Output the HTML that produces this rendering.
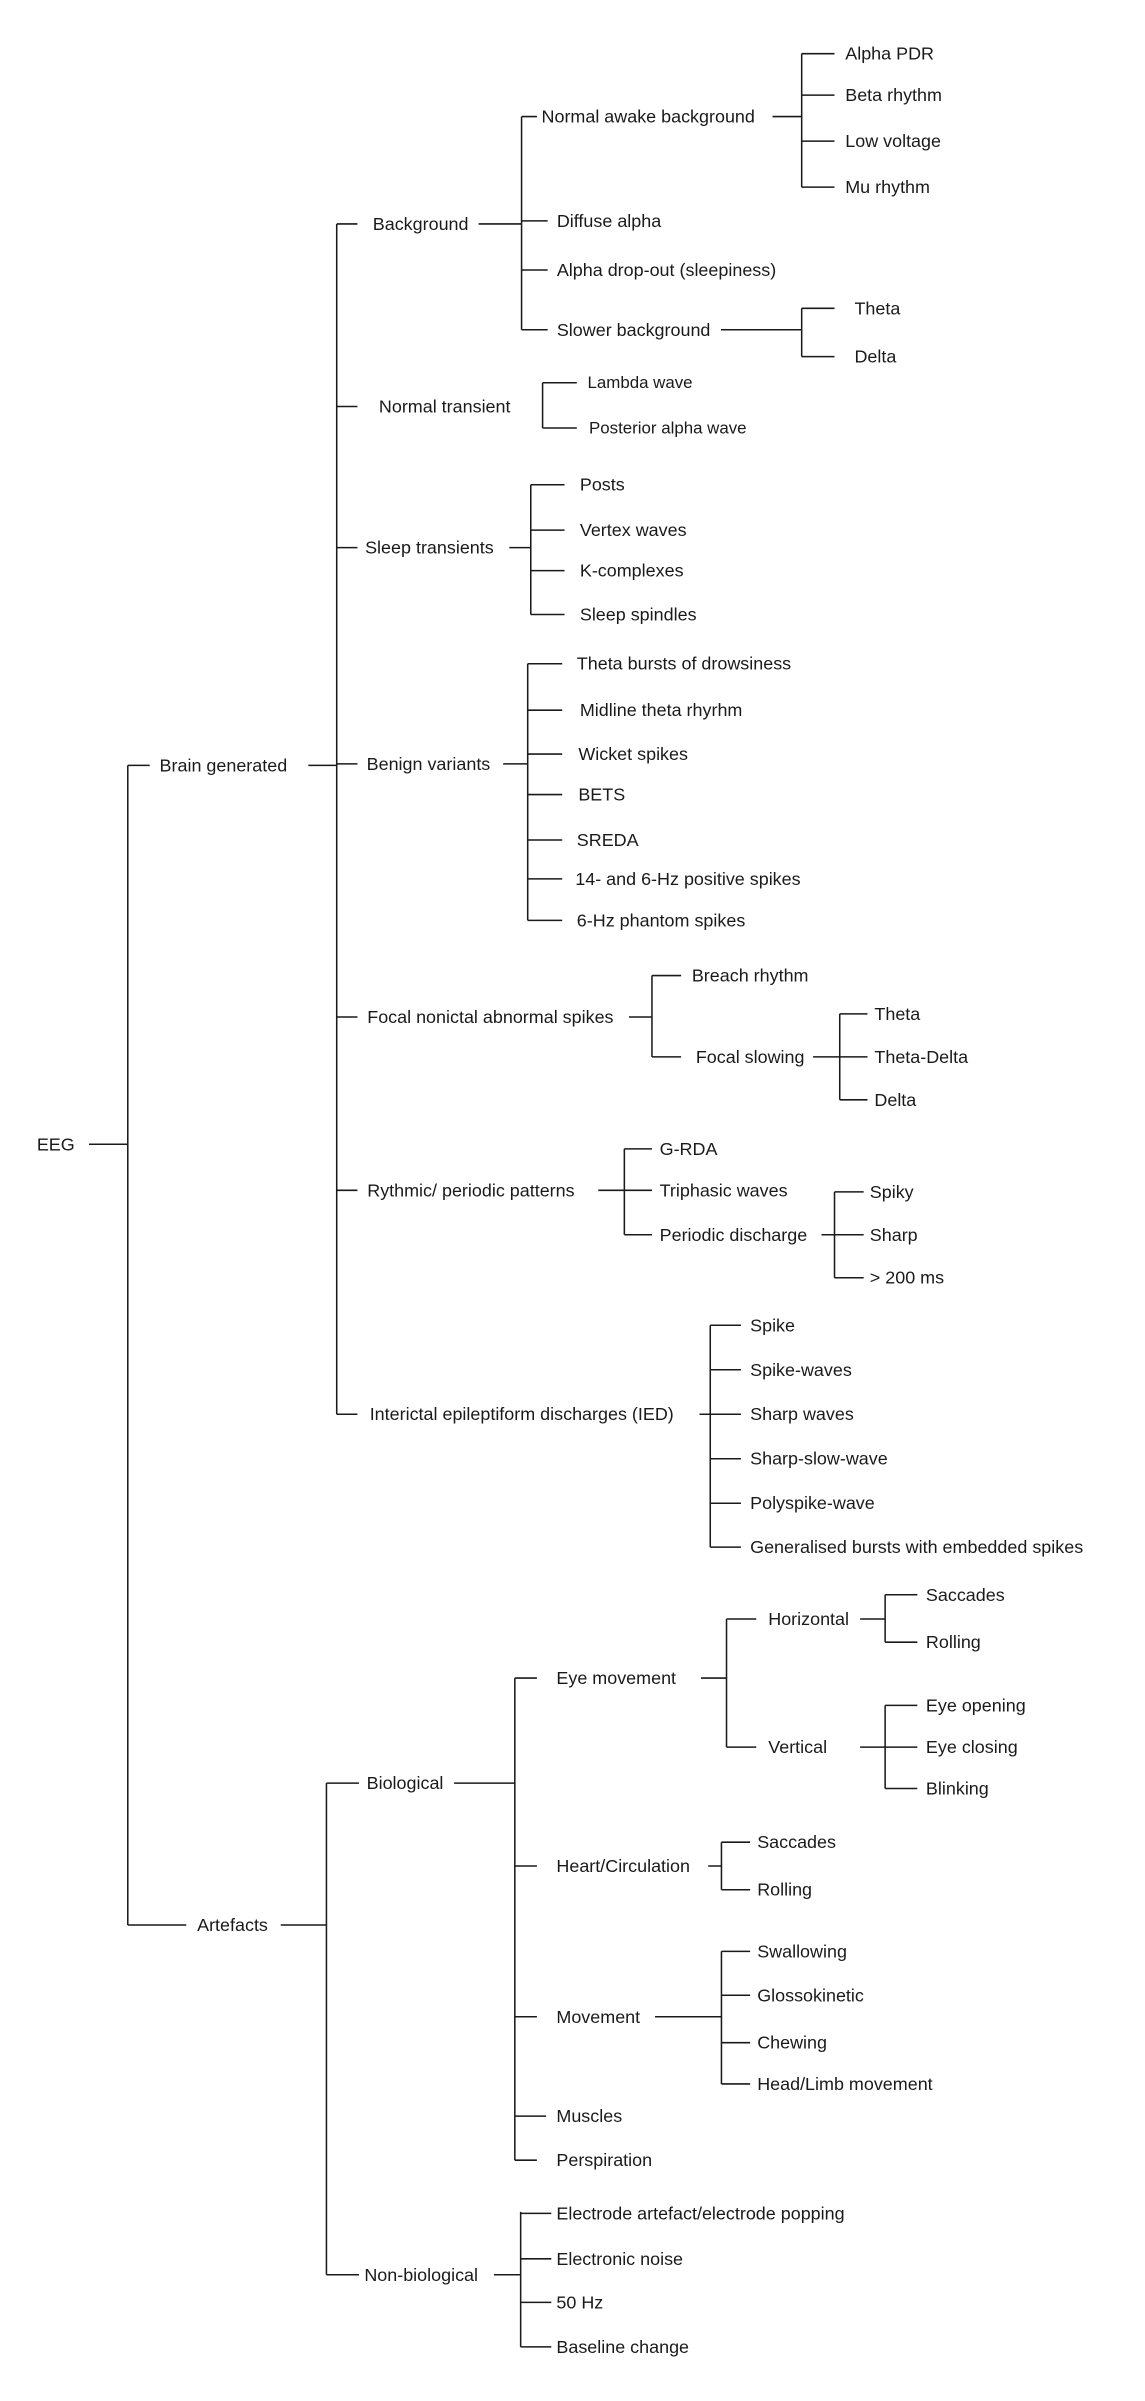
<!DOCTYPE html>
<html><head><meta charset="utf-8"><style>
html,body{margin:0;padding:0;background:#fff;}
svg{display:block;}
text{font-family:"Liberation Sans",Arial,sans-serif;font-size:11.7px;fill:#1a1a1a;dominant-baseline:central;}
path{stroke:#1a1a1a;stroke-width:1;fill:none;}
</style></head><body>
<svg width="1145" height="2401" viewBox="0 0 746.4 1565.3" preserveAspectRatio="none" xmlns="http://www.w3.org/2000/svg">
<path d="
M58 746H83.3 M83.3 499V1255 M83.3 499H97.6 M83.3 1255H121.4
M201 499H219.5 M219.5 146V922
M219.5 146H233 M219.5 265H233 M219.5 357H233 M219.5 498H233 M219.5 663H233 M219.5 776H233 M219.5 922H233
M312 146H340 M340 76V215 M340 76H350 M340 144H357 M340 176H357 M340 215H357
M503.6 76H522.6 M522.6 35V122 M522.6 35H544 M522.6 62H544 M522.6 92H544 M522.6 122H544
M470 215H522.6 M522.6 201V232.5 M522.6 201H544 M522.6 232.5H544
M353.7 249.5V279 M353.7 249.5H376 M353.7 279H376
M332 357H346 M346 316V400.6 M346 316H368 M346 345.6H368 M346 372H368 M346 400.6H368
M328 498H344 M344 432.7V600 M344 432.7H366.5 M344 463H366.5 M344 491.6H366.5 M344 518H366.5 M344 547.6H366.5 M344 573H366.5 M344 600H366.5
M410 663H425 M425 636V689 M425 636H444 M425 689H444
M530 689H547.4 M547.4 661V717 M547.4 661H565.5 M547.4 689H565.5 M547.4 717H565.5
M390 776H407 M407 749V805 M407 749H425 M407 776H425 M407 805H425
M535.5 805H544 M544 777V833 M544 777H563 M544 805H563 M544 833H563
M456 922H463 M463 864V1008.6 M463 864H483 M463 893H483 M463 922H483 M463 951H483 M463 980H483 M463 1008.6H483
M183 1255H212.8 M212.8 1162.5V1483 M212.8 1162.5H234 M212.8 1483H234
M296 1162.5H335.6 M335.6 1094V1408.3 M335.6 1094H350 M335.6 1216.5H350 M335.6 1314.8H350 M335.6 1379.6H356 M335.6 1408.3H350
M457 1094H473.6 M473.6 1055.5V1139 M473.6 1055.5H493 M473.6 1139H493
M560.7 1055.5H577 M577 1039.7V1070.6 M577 1039.7H598 M577 1070.6H598
M560.7 1139H577 M577 1111.8V1166 M577 1111.8H598 M577 1139H598 M577 1166H598
M461.7 1216.5H470.3 M470.3 1201V1232 M470.3 1201H489 M470.3 1232H489
M427 1314.8H470.3 M470.3 1272.2V1358.6 M470.3 1272.2H489 M470.3 1300.8H489 M470.3 1331.7H489 M470.3 1358.6H489
M322 1483H339.4 M339.4 1442V1530 M339.4 1443H359.4 M339.4 1472.6H359.4 M339.4 1501H359.4 M339.4 1530H359.4
"/>
<text x="24" y="746">EEG</text>
<text x="104" y="499">Brain generated</text>
<text x="128.5" y="1255">Artefacts</text>
<text x="243" y="146">Background</text>
<text x="247" y="265">Normal transient</text>
<text x="238" y="357">Sleep transients</text>
<text x="239" y="498">Benign variants</text>
<text x="239.4" y="663">Focal nonictal abnormal spikes</text>
<text x="239.4" y="776">Rythmic/ periodic patterns</text>
<text x="241" y="922">Interictal epileptiform discharges (IED)</text>
<text x="353" y="76">Normal awake background</text>
<text x="363" y="144">Diffuse alpha</text>
<text x="363" y="176">Alpha drop-out (sleepiness)</text>
<text x="363" y="215">Slower background</text>
<text x="551" y="35">Alpha PDR</text>
<text x="551" y="62">Beta rhythm</text>
<text x="551" y="92">Low voltage</text>
<text x="551" y="122">Mu rhythm</text>
<text x="557" y="201">Theta</text>
<text x="557" y="232.5">Delta</text>
<text x="383" y="249.5" style="font-size:11px">Lambda wave</text>
<text x="384" y="279" style="font-size:11px">Posterior alpha wave</text>
<text x="378" y="316">Posts</text>
<text x="378" y="345.6">Vertex waves</text>
<text x="378" y="372">K-complexes</text>
<text x="378" y="400.6">Sleep spindles</text>
<text x="376" y="432.7">Theta bursts of drowsiness</text>
<text x="378" y="463">Midline theta rhyrhm</text>
<text x="377" y="491.6">Wicket spikes</text>
<text x="377" y="518">BETS</text>
<text x="376" y="547.6">SREDA</text>
<text x="375" y="573">14- and 6-Hz positive spikes</text>
<text x="376" y="600">6-Hz phantom spikes</text>
<text x="451" y="636">Breach rhythm</text>
<text x="453.6" y="689">Focal slowing</text>
<text x="570" y="661">Theta</text>
<text x="570" y="689">Theta-Delta</text>
<text x="570" y="717">Delta</text>
<text x="430" y="749">G-RDA</text>
<text x="430" y="776">Triphasic waves</text>
<text x="430" y="805">Periodic discharge</text>
<text x="567" y="777">Spiky</text>
<text x="567" y="805">Sharp</text>
<text x="567" y="833">&gt; 200 ms</text>
<text x="489" y="864">Spike</text>
<text x="489" y="893">Spike-waves</text>
<text x="489" y="922">Sharp waves</text>
<text x="489" y="951">Sharp-slow-wave</text>
<text x="489" y="980">Polyspike-wave</text>
<text x="489" y="1008.6">Generalised bursts with embedded spikes</text>
<text x="239" y="1162.5">Biological</text>
<text x="237.5" y="1483">Non-biological</text>
<text x="362.7" y="1094">Eye movement</text>
<text x="500.8" y="1055.5">Horizontal</text>
<text x="500.8" y="1139">Vertical</text>
<text x="603.6" y="1039.7">Saccades</text>
<text x="603.6" y="1070.6">Rolling</text>
<text x="603.6" y="1111.8">Eye opening</text>
<text x="603.6" y="1139">Eye closing</text>
<text x="603.6" y="1166">Blinking</text>
<text x="362.7" y="1216.5">Heart/Circulation</text>
<text x="493.6" y="1201">Saccades</text>
<text x="493.6" y="1232">Rolling</text>
<text x="362.7" y="1314.8">Movement</text>
<text x="493.6" y="1272.2">Swallowing</text>
<text x="493.6" y="1300.8">Glossokinetic</text>
<text x="493.6" y="1331.7">Chewing</text>
<text x="493.6" y="1358.6">Head/Limb movement</text>
<text x="362.7" y="1379.6">Muscles</text>
<text x="362.7" y="1408.3">Perspiration</text>
<text x="362.7" y="1443">Electrode artefact/electrode popping</text>
<text x="362.7" y="1472.6">Electronic noise</text>
<text x="362.7" y="1501">50 Hz</text>
<text x="362.7" y="1530">Baseline change</text>
</svg>
</body></html>
